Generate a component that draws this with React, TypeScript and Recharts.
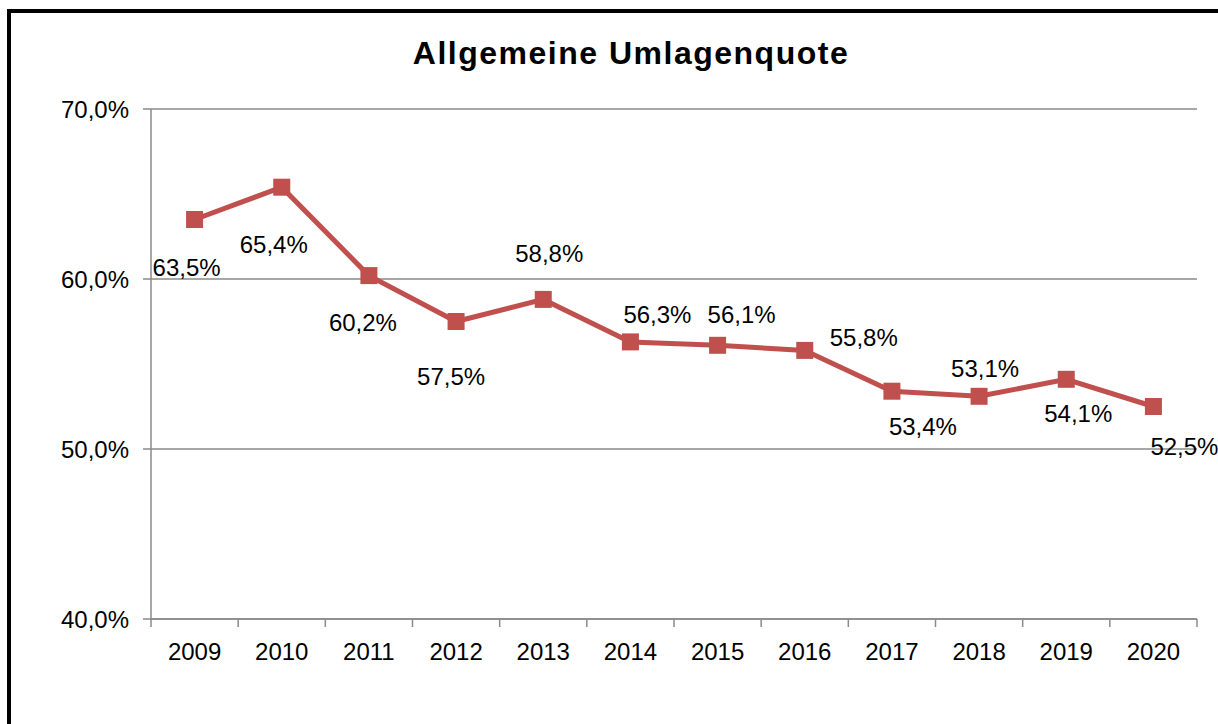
import { LineChart, Line, XAxis, YAxis, CartesianGrid, LabelList } from 'recharts';

const YEARS = ['2009', '2010', '2011', '2012', '2013', '2014', '2015', '2016', '2017', '2018', '2019', '2020'];
const QUOTE = [63.5, 65.4, 60.2, 57.5, 58.8, 56.3, 56.1, 55.8, 53.4, 53.1, 54.1, 52.5];
const Y_TICKS = [40, 50, 60, 70];

// label placement relative to each marker (Excel put them all over the place)
const LABEL_OFFSETS: [number, number][] = [
  [-8, 48], [-8, 57], [-6, 47], [-5, 55], [6, -46], [27, -28],
  [24, -31], [59, -13], [31, 35], [6, -28], [12, 34], [31, 40],
];

const W = 1218;
const H = 724;
const PLOT_LEFT = 151;
const PLOT_RIGHT = 1197;
const PLOT_TOP = 109;
const PLOT_BOTTOM = 619;
const BAND = (PLOT_RIGHT - PLOT_LEFT) / YEARS.length;

const RED = '#C0504D';
const GRID = '#8a8a8a';
const FONT = '"Liberation Sans", Arial, sans-serif';

const data = YEARS.map((year, i) => ({ year, quote: QUOTE[i] }));

const fmtPct = (v: number) => v.toFixed(1).replace('.', ',') + '%';

function YearTick(props: any) {
  const { x, y, payload, index } = props;
  const last = index === YEARS.length - 1;
  return (
    <g>
      <line x1={x - BAND / 2} x2={x - BAND / 2} y1={y} y2={y + 8} stroke={GRID} strokeWidth={1.5} />
      {last && <line x1={x + BAND / 2} x2={x + BAND / 2} y1={y} y2={y + 8} stroke={GRID} strokeWidth={1.5} />}
      <text x={x} y={y + 41} textAnchor="middle" fontSize={24} fontFamily={FONT} fill="#000">
        {payload.value}
      </text>
    </g>
  );
}

function SquareDot(props: any) {
  const { cx, cy, index } = props;
  return <rect key={index} x={cx - 8.5} y={cy - 8.5} width={17} height={17} fill={RED} />;
}

function PointLabel(props: any) {
  const { x, y, value, index } = props;
  const [dx, dy] = LABEL_OFFSETS[index] ?? [0, -20];
  return (
    <text
      x={x + dx}
      y={y + dy + 8.6}
      textAnchor="middle"
      fontSize={24}
      fontFamily={FONT}
      fill="#000"
    >
      {fmtPct(value)}
    </text>
  );
}

export default function App() {
  return (
    <div
      style={{
        position: 'absolute',
        left: 0,
        top: 0,
        width: W,
        height: H,
        overflow: 'hidden',
        background: '#fff',
      }}
    >
      <div
        style={{
          position: 'absolute',
          left: 7,
          top: 9,
          width: 1300,
          height: 800,
          border: '4px solid #000',
        }}
      />
      <div
        style={{
          position: 'absolute',
          left: 0,
          width: 1262,
          top: 35,
          textAlign: 'center',
          fontFamily: FONT,
          fontWeight: 'bold',
          fontSize: 32,
          letterSpacing: 1.5,
          lineHeight: '36px',
          color: '#000',
        }}
      >
        Allgemeine Umlagenquote
      </div>
      <div style={{ position: 'absolute', left: 0, top: 0 }}>
        <LineChart
          width={W}
          height={H}
          data={data}
          margin={{ top: PLOT_TOP, right: W - PLOT_RIGHT, bottom: 0, left: 0 }}
        >
          <CartesianGrid vertical={false} stroke={GRID} strokeWidth={1.5} />
          <XAxis
            dataKey="year"
            height={H - PLOT_BOTTOM}
            padding={{ left: BAND / 2, right: BAND / 2 }}
            axisLine={{ stroke: GRID, strokeWidth: 1.5 }}
            tickLine={false}
            tickSize={0}
            tickMargin={0}
            interval={0}
            tick={<YearTick />}
          />
          <YAxis
            width={PLOT_LEFT}
            domain={[40, 70]}
            ticks={Y_TICKS}
            tickFormatter={fmtPct}
            axisLine={{ stroke: GRID, strokeWidth: 1.5 }}
            tickLine={{ stroke: GRID, strokeWidth: 1.5 }}
            tickSize={8}
            tickMargin={14}
            tick={{ fontSize: 24, fontFamily: FONT, fill: '#000' }}
          />
          <Line
            dataKey="quote"
            stroke={RED}
            strokeWidth={5}
            dot={SquareDot}
            activeDot={false}
            isAnimationActive={false}
          >
            <LabelList dataKey="quote" content={PointLabel} />
          </Line>
        </LineChart>
      </div>
    </div>
  );
}
